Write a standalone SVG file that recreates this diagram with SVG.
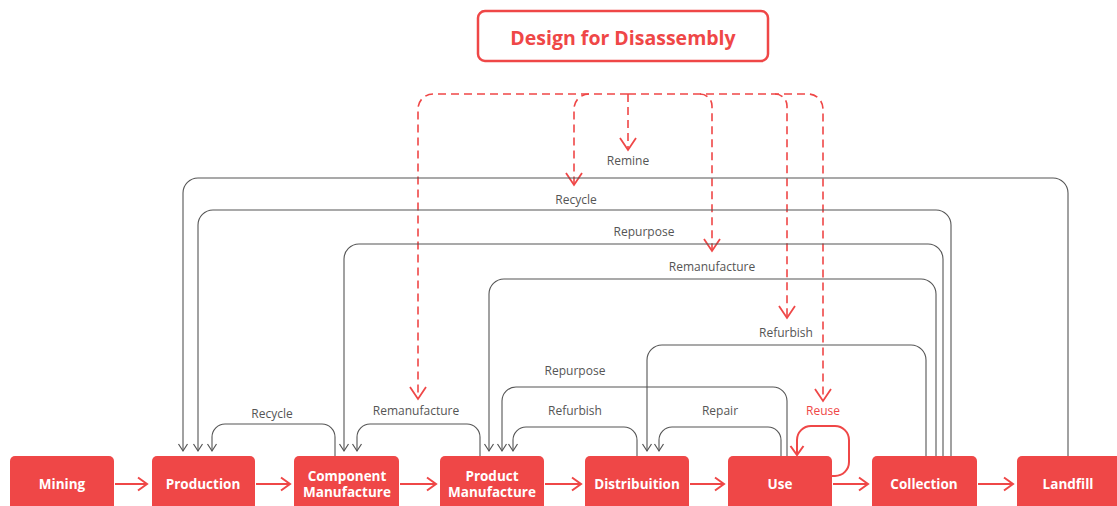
<svg xmlns="http://www.w3.org/2000/svg" width="1117" height="506" viewBox="0 0 1117 506">
<style>
.node rect{fill:#EF4747;}
.node text{fill:#fff;font-family:"Open Sans","Liberation Sans",sans-serif;font-weight:700;font-size:13.5px;text-anchor:middle;dominant-baseline:central;}
.g{fill:none;stroke:#555;stroke-width:1.1;marker-end:url(#ag);}
.d{fill:none;stroke:#EF4747;stroke-width:1.6;stroke-dasharray:8 5;}
.da{marker-end:url(#ad);}
.r{fill:none;stroke:#EF4747;stroke-width:2;marker-end:url(#ar);}
.lbl{fill:#555;font-family:"Open Sans","Liberation Sans",sans-serif;font-size:12px;text-anchor:middle;dominant-baseline:central;}
</style>
<defs>
<marker id="ag" markerUnits="userSpaceOnUse" viewBox="-15 -15 30 30" refX="0" refY="0" markerWidth="30" markerHeight="30" orient="auto"><path d="M-7,-4.5 L0,0 L-7,4.5" fill="none" stroke="#555" stroke-width="1.2"/></marker>
<marker id="ad" markerUnits="userSpaceOnUse" viewBox="-15 -15 30 30" refX="0" refY="0" markerWidth="30" markerHeight="30" orient="auto"><path d="M-12,-8 L0,0 L-12,8" fill="none" stroke="#EF4747" stroke-width="1.8"/></marker>
<marker id="ar" markerUnits="userSpaceOnUse" viewBox="-15 -15 30 30" refX="0" refY="0" markerWidth="30" markerHeight="30" orient="auto"><path d="M-9,-6.5 L0,0 L-9,6.5" fill="none" stroke="#EF4747" stroke-width="2"/></marker>
</defs>
<rect width="1117" height="506" fill="#fff"/>

<g id="title">
<rect x="478" y="11" width="290" height="50" rx="7" fill="#fff" stroke="#EF4747" stroke-width="2.5"/>
<text x="623" y="37" fill="#EF4747" font-family="'Open Sans','Liberation Sans',sans-serif" font-weight="700" font-size="19.5" text-anchor="middle" dominant-baseline="central">Design for Disassembly</text>
</g>

<g id="connectors">
<!-- dashed from Design for Disassembly -->
<path class="d da" d="M628,94 H433 A15 15 0 0 0 418 109 V399"/>
<path class="d da" d="M628,94 H808 A15 15 0 0 1 823 109 V401"/>
<path class="d da" d="M628,94 V150"/>
<path class="d da" d="M589,94 A15 15 0 0 0 574 109 V185"/>
<path class="d da" d="M700,94 A12 12 0 0 1 712 106 V251"/>
<path class="d da" d="M775,94 A12 12 0 0 1 787 106 V318"/>

<!-- gray loops -->
<path class="g" d="M1068,456 V193 A15 15 0 0 0 1053 178 H198 A15 15 0 0 0 183 193 V451"/>
<path class="g" d="M951,456 V225 A15 15 0 0 0 936 210 H213 A15 15 0 0 0 198 225 V451"/>
<path class="g" d="M943,456 V259 A15 15 0 0 0 928 244 H359 A15 15 0 0 0 344 259 V451"/>
<path class="g" d="M936,456 V294 A15 15 0 0 0 921 279 H504 A15 15 0 0 0 489 294 V451"/>
<path class="g" d="M926,456 V360 A15 15 0 0 0 911 345 H662 A15 15 0 0 0 647 360 V451"/>
<path class="g" d="M787,456 V401 A14 14 0 0 0 773 387 H516 A14 14 0 0 0 502 401 V451"/>
<path class="g" d="M637,456 V440 A13 13 0 0 0 624 427 H526 A13 13 0 0 0 513 440 V451"/>
<path class="g" d="M781,456 V440 A13 13 0 0 0 768 427 H672 A13 13 0 0 0 659 440 V451"/>
<path class="g" d="M335,456 V437 A13 13 0 0 0 322 424 H225 A13 13 0 0 0 212 437 V451"/>
<path class="g" d="M480,456 V437 A13 13 0 0 0 467 424 H370 A13 13 0 0 0 357 437 V451"/>

<!-- reuse loop -->
<path class="r" d="M832,476 H835 A14 14 0 0 0 849 462 V440 A14 14 0 0 0 835 426 H811 A14 14 0 0 0 797 440 V455"/>

<!-- flow arrows -->
<path class="r" d="M115,484 H147"/>
<path class="r" d="M256,484 H290"/>
<path class="r" d="M400,484 H436"/>
<path class="r" d="M545,484 H581"/>
<path class="r" d="M690,484 H724"/>
<path class="r" d="M833,484 H868"/>
<path class="r" d="M978,484 H1013"/>

<!-- labels -->
<text class="lbl" x="628" y="160">Remine</text>
<text class="lbl" x="576" y="199">Recycle</text>
<text class="lbl" x="644" y="231">Repurpose</text>
<text class="lbl" x="712" y="266">Remanufacture</text>
<text class="lbl" x="786" y="332">Refurbish</text>
<text class="lbl" x="575" y="370">Repurpose</text>
<text class="lbl" x="575" y="410">Refurbish</text>
<text class="lbl" x="720" y="410">Repair</text>
<text class="lbl" x="272" y="413">Recycle</text>
<text class="lbl" x="416" y="410">Remanufacture</text>
<text class="lbl" x="823" y="410" style="fill:#EF4747">Reuse</text>
</g>

<g id="mining" class="node"><rect x="10" y="456" width="104" height="62" rx="5"/><text x="62" y="484">Mining</text></g>
<g id="production" class="node"><rect x="152" y="456" width="103" height="62" rx="5"/><text x="203" y="484">Production</text></g>
<g id="component" class="node"><rect x="294" y="456" width="105" height="62" rx="5"/><text x="347" y="476">Component</text><text x="347" y="492">Manufacture</text></g>
<g id="product" class="node"><rect x="440" y="456" width="104" height="62" rx="5"/><text x="492" y="476">Product</text><text x="492" y="492">Manufacture</text></g>
<g id="distribution" class="node"><rect x="585" y="456" width="104" height="62" rx="5"/><text x="637" y="484">Distribuition</text></g>
<g id="use" class="node"><rect x="728" y="456" width="104" height="62" rx="5"/><text x="780" y="484">Use</text></g>
<g id="collection" class="node"><rect x="872" y="456" width="105" height="62" rx="5"/><text x="924" y="484">Collection</text></g>
<g id="landfill" class="node"><rect x="1017" y="456" width="104" height="62" rx="5"/><text x="1068" y="484">Landfill</text></g>
</svg>
